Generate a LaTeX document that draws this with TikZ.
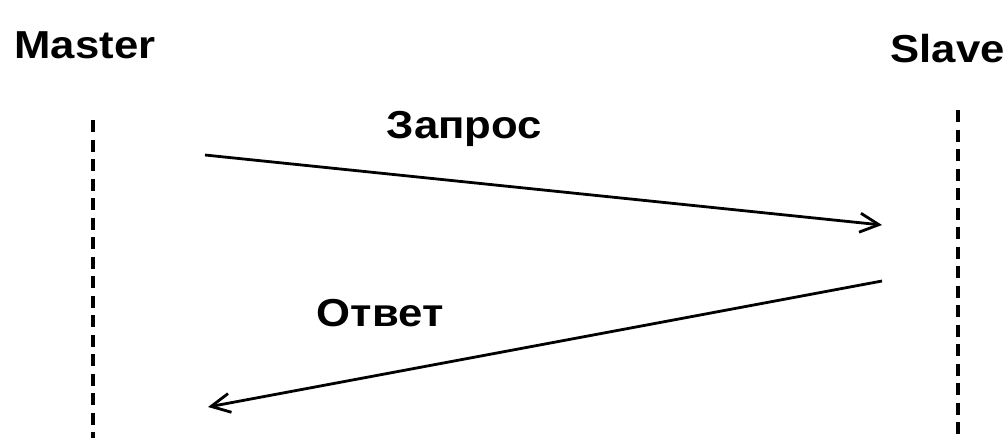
\documentclass[tikz,border=0pt]{standalone}
\usepackage{fontspec}
\setmainfont{Liberation Sans}
\newfontfamily\lblfont[FakeStretch=1.12]{Liberation Sans}
\usetikzlibrary{arrows.meta}
\begin{document}
\begin{tikzpicture}[x=1pt,y=-1pt,
  lbl/.style={inner sep=0pt,anchor=base,font=\lblfont\bfseries\fontsize{39}{42}\selectfont},
  lifeline/.style={line width=4.2pt,dash pattern=on 12pt off 7.5pt,black},
  msg/.style={line width=2.8pt,black,-{Straight Barb[length=19pt,width=19pt,line width=2.8pt]}}]
\useasboundingbox (0,0) rectangle (1006,437);
\node[lbl] (master) at (85,58) {Master};
\node[lbl] (slave) at (947.5,62) {Slave};
\node[lbl] (req) at (464.5,138) {Запрос};
\node[lbl] (resp) at (380,326) {Ответ};
\coordinate (mtop) at (93,120);
\coordinate (mbot) at (93,440);
\coordinate (stop) at (958,110);
\coordinate (sbot) at (958,440);
\draw[lifeline] (mtop) -- (mbot);
\draw[lifeline] (stop) -- (sbot);
\coordinate (r1) at (205,155);
\coordinate (r2) at (882,225);
\coordinate (a1) at (882,281);
\coordinate (a2) at (208,407);
\draw[msg] (r1) -- (r2);
\draw[msg] (a1) -- (a2);
\end{tikzpicture}
\end{document}
